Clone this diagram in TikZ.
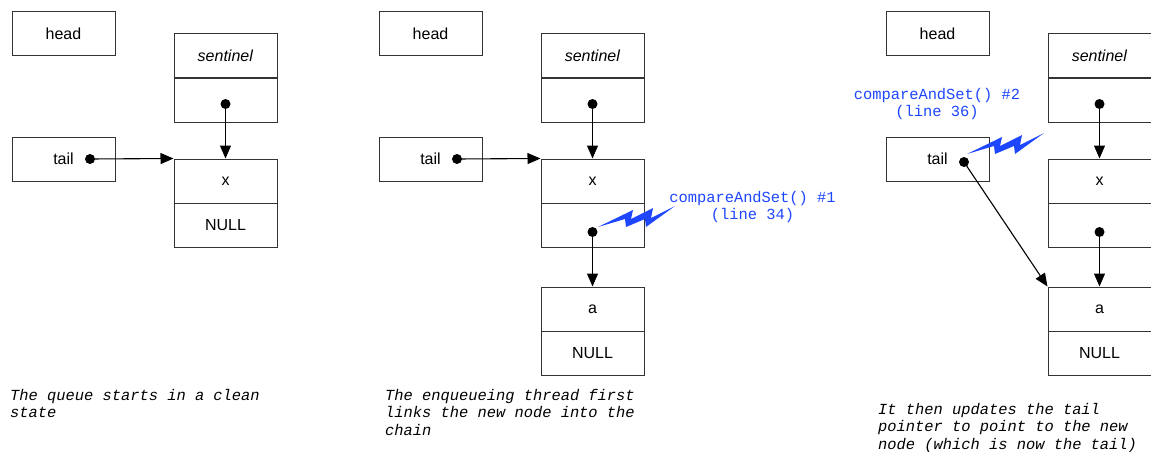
\documentclass[tikz,border=0pt]{standalone}
\usepackage{fontspec}
\setsansfont{Liberation Sans}
\setmonofont{Liberation Mono}
\usetikzlibrary{arrows.meta}
\definecolor{casblue}{RGB}{30,70,255}
\tikzset{
  cell/.style={draw=black!80,line width=1pt,minimum width=103pt,minimum height=44pt,inner sep=0pt,font=\sffamily\fontsize{16}{18}\selectfont},
  ptrdot/.style={circle,fill=black,inner sep=0pt,minimum size=10pt},
  ptr/.style={-{Triangle[length=13pt,width=11pt]},line width=1.1pt},
  casnote/.style={font=\ttfamily\fontsize{15.4}{17.5}\selectfont,text=casblue,align=center},
  capt/.style={font=\ttfamily\itshape\fontsize{15.4}{17.5}\selectfont,align=left,anchor=north west,inner sep=0pt}
}
\begin{document}
\begin{tikzpicture}[x=1pt,y=-1pt]
\def\bolt#1{\fill[casblue,shift={(#1)}] (0,0) -- (35,-17) -- (33,-8) -- (55,-19) -- (53,-9) -- (77,-21) -- (48,0) -- (47,-8) -- (28,0) -- (27,-8) -- cycle;}
\useasboundingbox (0,0) rectangle (1151,452);
\clip (0,0) rectangle (1151,452);

% clean state
\node[cell] at (63.5,33.5) (h1) {head};
\node[cell] at (225.5,56) (s1) {\textit{sentinel}};
\node[cell] at (225.5,100) (s1n) {};
\node[cell] at (63.5,159) (t1) {tail};
\node[cell] at (225.5,181) (x1) {x};
\node[cell] at (225.5,225) (x1n) {NULL};
\node[ptrdot] at (225.5,104) (s1d) {};
\node[ptrdot] at (90,159) (t1d) {};
\draw[ptr] (s1d.center) -- (x1.north);
\draw[ptr] (t1d.center) -- (x1.north west);
\node[capt] at (10,389) (c1) {The queue starts in a clean\\state};

% first CAS: link the new node
\node[cell] at (430.5,33.5) (h2) {head};
\node[cell] at (592.5,56) (s2) {\textit{sentinel}};
\node[cell] at (592.5,100) (s2n) {};
\node[cell] at (430.5,159) (t2) {tail};
\node[cell] at (592.5,181) (x2) {x};
\node[cell] at (592.5,225) (x2n) {};
\node[cell] at (592.5,309) (a2) {a};
\node[cell] at (592.5,353) (a2n) {NULL};
\node[ptrdot] at (592.5,104) (s2d) {};
\node[ptrdot] at (457,159) (t2d) {};
\node[ptrdot] at (592.5,232) (x2d) {};
\draw[ptr] (s2d.center) -- (x2.north);
\draw[ptr] (t2d.center) -- (x2.north west);
\draw[ptr] (x2d.center) -- (a2.north);
\bolt{598,227}
\node[casnote] at (752.5,207) (n2) {compareAndSet() \#1\\(line 34)};
\node[capt] at (385,389) (c2) {The enqueueing thread first\\links the new node into the\\chain};

% second CAS: swing the tail
\node[cell] at (937.5,33.5) (h3) {head};
\node[cell] at (1099.5,56) (s3) {\textit{sentinel}};
\node[cell] at (1099.5,100) (s3n) {};
\node[cell] at (937.5,159) (t3) {tail};
\node[cell] at (1099.5,181) (x3) {x};
\node[cell] at (1099.5,225) (x3n) {};
\node[cell] at (1099.5,309) (a3) {a};
\node[cell] at (1099.5,353) (a3n) {NULL};
\node[ptrdot] at (1099.5,104) (s3d) {};
\node[ptrdot] at (964,162) (t3d) {};
\node[ptrdot] at (1099.5,232) (x3d) {};
\draw[ptr] (s3d.center) -- (x3.north);
\draw[ptr] (x3d.center) -- (a3.north);
\draw[ptr] (t3d.center) -- (a3.north west);
\bolt{967,154}
\node[casnote] at (937,104) (n3) {compareAndSet() \#2\\(line 36)};
\node[capt] at (878,403) (c3) {It then updates the tail\\pointer to point to the new\\node (which is now the tail)};
\end{tikzpicture}
\end{document}
